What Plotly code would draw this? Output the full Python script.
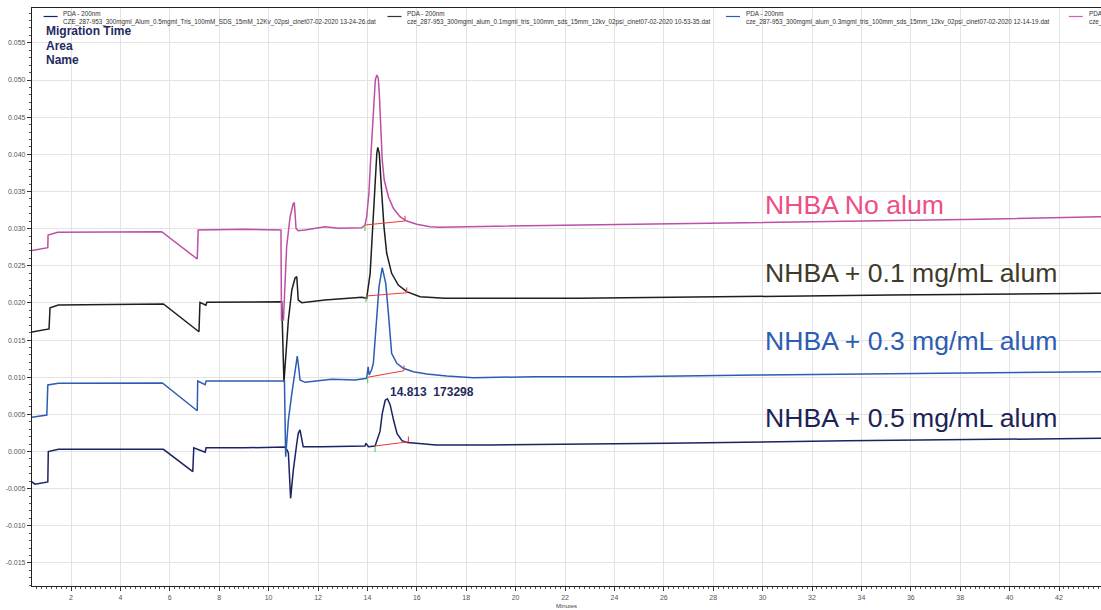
import plotly.graph_objects as go

# ---------------- data (minutes, absorbance AU) ----------------
navy_x = [0.30, 0.54, 1.06, 1.08, 1.49, 5.74, 6.93, 6.97, 7.43, 7.47, 9.04, 10.66, 10.75, 10.80, 10.89,
          11.00, 11.14, 11.20, 11.27, 11.34, 11.40, 12.15, 13.90, 13.94, 14.04, 14.31, 14.51, 14.60,
          14.72, 14.81, 14.92, 15.06, 15.20, 15.40, 15.62, 16.33, 16.77, 18.94, 26.17, 33.39, 43.66, 44.5]
navy_y = [-0.0038, -0.0044, -0.0041, 0.0000, 0.0003, 0.0003, -0.0027, 0.0005, -0.0001, 0.0005, 0.0005,
          0.0006, 0.0002, -0.0002, -0.0063, -0.0025, 0.0011, 0.00245, 0.0029, 0.00155, 0.00065, 0.00065,
          0.00074, 0.0011, 0.00065, 0.00074, 0.0027, 0.0051, 0.0069, 0.0071, 0.0063, 0.0042, 0.0024,
          0.00145, 0.0012, 0.0010, 0.00087, 0.00087, 0.0011, 0.00145, 0.0018, 0.0018]

black_x = [0.30, 1.11, 1.15, 1.49, 5.74, 7.18, 7.22, 7.46, 7.50, 9.04, 10.53, 10.62, 10.80, 10.94, 11.07,
           11.14, 11.20, 11.34, 12.28, 13.77, 13.97, 14.11, 14.21, 14.31, 14.38, 14.42, 14.48, 14.58,
           14.67, 14.78, 14.98, 15.25, 15.59, 16.13, 16.81, 17.13, 22.55, 27.97, 35.20, 43.66, 44.5]
black_y = [0.0160, 0.01649, 0.01935, 0.01972, 0.01985, 0.01612, 0.02008, 0.0197, 0.02008, 0.02008,
           0.02016, 0.00935, 0.0177, 0.02174, 0.02335, 0.02353, 0.02039, 0.02003, 0.02039, 0.02075,
           0.02062, 0.02398, 0.03026, 0.03699, 0.04013, 0.04094, 0.04013, 0.03475, 0.03026, 0.02668,
           0.02398, 0.02241, 0.02151, 0.02083, 0.02062, 0.02062, 0.02062, 0.02083, 0.02106, 0.02129, 0.0213]

blue_x = [0.30, 1.02, 1.06, 1.49, 5.70, 7.11, 7.13, 7.43, 7.47, 9.04, 10.64, 10.69, 10.80, 10.94, 11.07,
          11.16, 11.23, 11.27, 11.47, 12.55, 13.50, 13.97, 14.03, 14.07, 14.17, 14.24, 14.31, 14.38,
          14.47, 14.60, 14.74, 14.85, 14.98, 15.19, 15.45, 15.86, 16.40, 17.21, 18.29, 20.74, 24.36,
          29.77, 37.01, 43.66, 44.5]
blue_y = [0.00455, 0.00491, 0.00895, 0.00918, 0.00922, 0.00549, 0.00949, 0.0090, 0.00949, 0.00953,
          0.00949, -0.0007, 0.00424, 0.00783, 0.01097, 0.01285, 0.01097, 0.00962, 0.00931, 0.00972,
          0.00962, 0.00985, 0.0114, 0.0103, 0.0110, 0.01187, 0.01501, 0.0186, 0.02218, 0.02474,
          0.02264, 0.0186, 0.01322, 0.01187, 0.0112, 0.01074, 0.01043, 0.01016, 0.00993, 0.01007,
          0.01007, 0.0103, 0.01052, 0.01074, 0.01075]

pink_x = [0.30, 1.06, 1.07, 1.47, 5.67, 7.11, 7.15, 9.04, 10.50, 10.52, 10.60, 10.73, 10.87, 11.00,
          11.04, 11.11, 11.20, 11.47, 12.28, 12.82, 13.77, 13.90, 13.97, 14.06, 14.13, 14.20, 14.27,
          14.32, 14.38, 14.44, 14.48, 14.54, 14.60, 14.68, 14.85, 15.05, 15.32, 15.59, 16.00, 16.53,
          16.94, 18.03, 22.55, 27.97, 29.77, 35.20, 38.80, 43.66, 44.5]
pink_y = [0.0270, 0.02743, 0.02914, 0.0295, 0.02958, 0.02591, 0.02981, 0.02991, 0.02981, 0.0177,
          0.0177, 0.02756, 0.0316, 0.0334, 0.03349, 0.03004, 0.02972, 0.02981, 0.03026, 0.03004,
          0.03012, 0.03048, 0.0316, 0.03475, 0.03923, 0.04372, 0.04775, 0.0500, 0.05067, 0.05023,
          0.04821, 0.04372, 0.03923, 0.03654, 0.03429, 0.03273, 0.0316, 0.03102, 0.03058, 0.03026,
          0.03018, 0.03026, 0.03048, 0.03071, 0.0308, 0.03106, 0.03125, 0.0316, 0.0316]

# integration baselines (pink, black, blue, navy)
base_start_x = [13.90, 13.94, 14.01, 14.31]
base_start_y = [0.03048, 0.02093, 0.00999, 0.00074]
base_end_x = [15.52, 15.59, 15.48, 15.66]
base_end_y = [0.03102, 0.02137, 0.01088, 0.00132]

peak_label = "14.813  173298"
peak_label_x = 14.83
peak_label_y = 0.0080

legend_titles = ["PDA - 200nm", "PDA - 200nm", "PDA - 200nm", "PDA - 200nm"]
legend_files = [
    "CZE_287-953_300mgml_Alum_0.5mgml_Tris_100mM_SDS_15mM_12Kv_02psi_cinet07-02-2020 13-24-26.dat",
    "cze_287-953_300mgml_alum_0.1mgml_tris_100mm_sds_15mm_12kv_02psi_cinet07-02-2020 10-53-35.dat",
    "cze_287-953_300mgml_alum_0.3mgml_tris_100mm_sds_15mm_12kv_02psi_cinet07-02-2020 12-14-19.dat",
    "cze_287-953_300mgml_tris_100mm_sds_15mm_12kv_02psi_cinet07-02-2020.dat",
]
sample_labels = ["NHBA No alum", "NHBA + 0.1 mg/mL alum", "NHBA + 0.3 mg/mL alum", "NHBA + 0.5 mg/mL alum"]

x_tick_vals = list(range(2, 44, 2))
x_tick_text = [str(v) for v in x_tick_vals]
y_tick_vals = [-0.015, -0.010, -0.005, 0.000, 0.005, 0.010, 0.015, 0.020, 0.025, 0.030, 0.035,
               0.040, 0.045, 0.050, 0.055]
y_tick_text = ["-0.015", "-0.010", "-0.005", "0.000", "0.005", "0.010", "0.015", "0.020", "0.025",
               "0.030", "0.035", "0.040", "0.045", "0.050", "0.055"]

# ---------------- styling ----------------
C_PINK = "#bd4fa6"
C_BLACK = "#1e1e1e"
C_BLUE = "#2c5db3"
C_NAVY = "#1a2363"
FONT = "Liberation Sans, Arial, sans-serif"

W, H = 1101, 610
ML, MR, MT, MB = 32, 0, 8, 24
PW, PH = W - ML - MR, H - MT - MB


def px(p):
    return (p - ML) / PW


def py(q):
    return (H - MB - q) / PH


fig = go.Figure()
for xs, ys, c in [(navy_x, navy_y, C_NAVY), (black_x, black_y, C_BLACK),
                  (blue_x, blue_y, C_BLUE), (pink_x, pink_y, C_PINK)]:
    fig.add_trace(go.Scatter(x=xs, y=ys, mode="lines", line=dict(color=c, width=1.5),
                             showlegend=False, hoverinfo="skip"))

# baselines + tick marks
for i in range(4):
    fig.add_trace(go.Scatter(x=[base_start_x[i], base_end_x[i]], y=[base_start_y[i], base_end_y[i]],
                             mode="lines", line=dict(color="#f03a3a", width=1.1),
                             showlegend=False, hoverinfo="skip"))
    fig.add_trace(go.Scatter(x=[base_start_x[i], base_start_x[i]],
                             y=[base_start_y[i], base_start_y[i] - 0.0008],
                             mode="lines", line=dict(color="#5cc85c", width=1.1),
                             showlegend=False, hoverinfo="skip"))
    fig.add_trace(go.Scatter(x=[base_end_x[i], base_end_x[i]],
                             y=[base_end_y[i], base_end_y[i] + 0.0007],
                             mode="lines", line=dict(color="#f03a3a", width=1.1),
                             showlegend=False, hoverinfo="skip"))

ann = []
shapes = []
# legend entries along the top
leg_colors = [C_NAVY, "#333333", C_BLUE, "#d060c0"]
leg_x = [43.6, 387.5, 726, 1068.8]
for i in range(4):
    shapes.append(dict(type="line", xref="paper", yref="paper",
                       x0=px(leg_x[i]), x1=px(leg_x[i] + 14), y0=py(16.5), y1=py(16.5),
                       line=dict(color=leg_colors[i], width=1.2)))
    ann.append(dict(xref="paper", yref="paper", x=px(leg_x[i] + 17.8), y=py(13.6), text=legend_titles[i],
                    showarrow=False, xanchor="left", yanchor="middle",
                    font=dict(family=FONT, size=6.3, color="#333333")))
    ann.append(dict(xref="paper", yref="paper", x=px(leg_x[i] + 17.8), y=py(22.2), text=legend_files[i],
                    showarrow=False, xanchor="left", yanchor="middle",
                    font=dict(family=FONT, size=6.3, color="#333333")))

for j, t in enumerate(["Migration Time", "Area", "Name"]):
    ann.append(dict(xref="paper", yref="paper", x=px(43.5), y=py(31 + 14.6 * j), text="<b>%s</b>" % t,
                    showarrow=False, xanchor="left", yanchor="middle",
                    font=dict(family=FONT, size=12, color="#1f2a5e")))

lab_colors = ["#ee4f86", "#3f3b2c", "#2c5db3", "#1b2357"]
lab_y = [204, 272, 340, 417]
for i in range(4):
    ann.append(dict(xref="paper", yref="paper", x=px(763), y=py(lab_y[i] + 1), text=sample_labels[i],
                    showarrow=False, xanchor="left", yanchor="middle",
                    font=dict(family=FONT, size=26.6, color=lab_colors[i])))

ann.append(dict(x=peak_label_x, y=peak_label_y, text="<b>%s</b>" % peak_label, showarrow=False,
                xanchor="left", yanchor="middle", font=dict(family=FONT, size=12, color="#1f2a5e")))

fig.update_layout(
    width=W, height=H, margin=dict(l=ML, r=MR, t=MT, b=MB, pad=0),
    paper_bgcolor="white", plot_bgcolor="white",
    annotations=ann, shapes=shapes, showlegend=False,
    xaxis=dict(range=[0.42, 43.70], tickmode="array", tickvals=x_tick_vals, ticktext=x_tick_text,
               showgrid=True, gridcolor="#e3e3e3", gridwidth=1, zeroline=False,
               showline=True, linecolor="#222222", linewidth=1.2, mirror=True,
               ticks="outside", ticklen=4, tickcolor="#333333", tickwidth=1,
               minor=dict(dtick=0.2, tick0=0, ticks="outside", ticklen=2, tickcolor="#555555", showgrid=False),
               tickfont=dict(family=FONT, size=7, color="#555555"),
               title=dict(text="Minutes", font=dict(family=FONT, size=6, color="#444444"), standoff=4)),
    yaxis=dict(range=[-0.01810, 0.05969], tickmode="array", tickvals=y_tick_vals, ticktext=y_tick_text,
               showgrid=True, gridcolor="#e3e3e3", gridwidth=1, zeroline=False,
               showline=True, linecolor="#222222", linewidth=1.2,
               ticks="outside", ticklen=4, tickcolor="#333333", tickwidth=1,
               minor=dict(dtick=0.001, tick0=0, ticks="outside", ticklen=2, tickcolor="#555555", showgrid=False),
               tickfont=dict(family=FONT, size=7, color="#555555")),
)

fig.write_html("out.html", config={"displayModeBar": False})
